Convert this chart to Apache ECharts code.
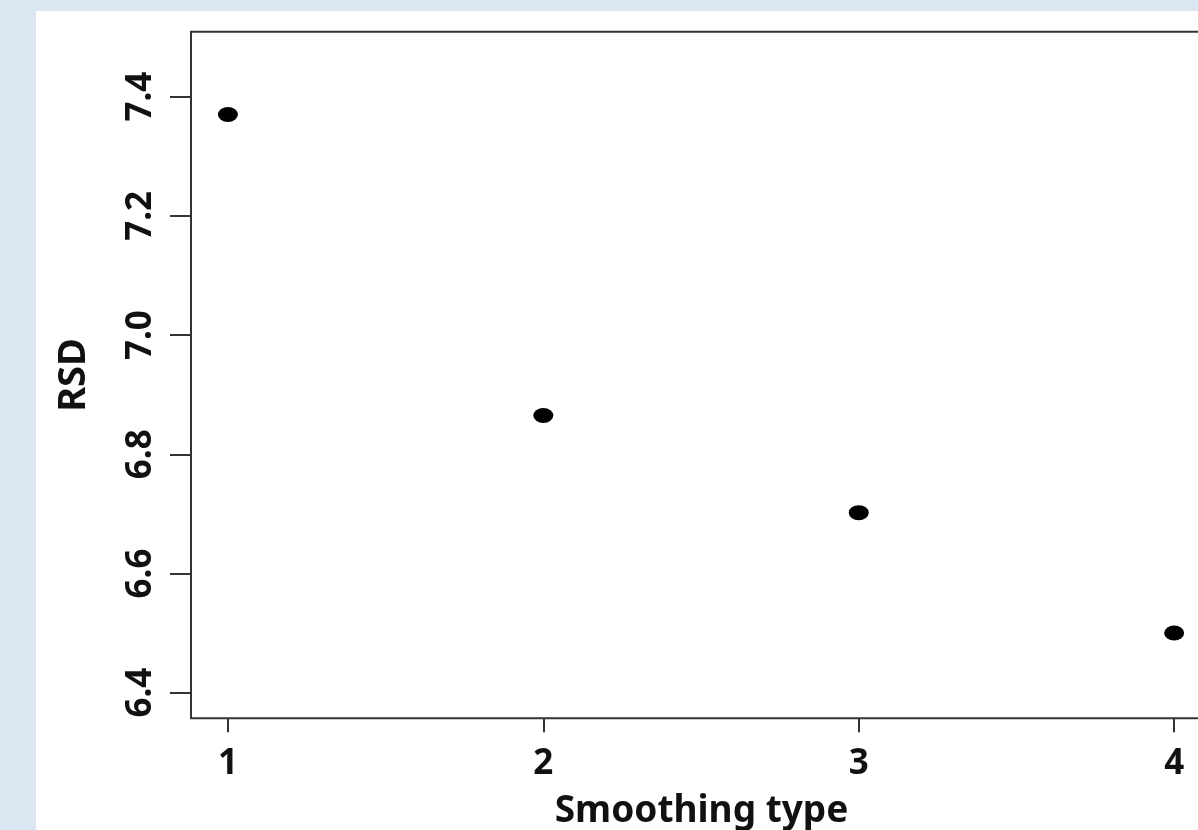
<!DOCTYPE html>
<html>
<head>
<meta charset="utf-8">
<script src="https://cdn.jsdelivr.net/npm/echarts@6/dist/echarts.min.js"></script>
<style>
  html, body { margin: 0; padding: 0; background: #dce6f2; width: 1198px; height: 830px; overflow: hidden; }
  #rsd { position: absolute; left: 36px; top: 11px; width: 1176px; height: 819px; background: #fff; }
</style>
</head>
<body>
<div id="rsd"></div>
<script>
// data
var smoothingType = [1, 2, 3, 4];
var rsdValues = [7.37, 6.865, 6.702, 6.50];
var xTicks = [1, 2, 3, 4];
var yTicks = [6.4, 6.6, 6.8, 7.0, 7.2, 7.4];

// the plot box runs past the right edge of the window, so the div is wider than the page
var myChart = echarts.init(document.getElementById('rsd'), null);

var font = '"Noto Sans", "DejaVu Sans", sans-serif';

var option = {
    animation: false,
    grid: {
        left: 155,
        top: 20.7,
        bottom: 111.7,
        right: 0,
        outerBoundsMode: 'none',
        show: true,
        borderColor: '#333',
        borderWidth: 2
    },
    xAxis: {
        type: 'value',
        min: 0.883,
        max: 4.12,
        name: 'Smoothing type',
        nameLocation: 'middle',
        nameGap: 75,
        nameTextStyle: { fontFamily: font, fontWeight: 'bold', fontSize: 37, color: '#111' },
        splitLine: { show: false },
        axisLine: { show: false },
        axisTick: { show: true, length: 14, lineStyle: { color: '#333', width: 2 }, customValues: xTicks },
        axisLabel: {
            margin: 28,
            fontFamily: font, fontWeight: 'bold', fontSize: 35, color: '#111',
            customValues: xTicks
        }
    },
    yAxis: {
        type: 'value',
        min: 6.357,
        max: 7.509,
        name: 'RSD',
        nameLocation: 'middle',
        nameGap: 98,
        nameTextStyle: { fontFamily: font, fontWeight: 'bold', fontSize: 38, color: '#111' },
        splitLine: { show: false },
        axisLine: { show: false },
        axisTick: { show: true, length: 21, lineStyle: { color: '#333', width: 2 }, customValues: yTicks },
        axisLabel: {
            rotate: 90,
            margin: 32,
            fontFamily: font, fontWeight: 'bold', fontSize: 35, color: '#111',
            customValues: yTicks,
            formatter: function (v) { return Number(v).toFixed(1); }
        }
    },
    series: [
        {
            type: 'scatter',
            symbol: 'circle',
            symbolSize: [20, 15],
            itemStyle: { color: '#000', opacity: 1 },
            data: smoothingType.map(function (x, i) { return [x, rsdValues[i]]; })
        }
    ]
};

myChart.setOption(option);
</script>
</body>
</html>
